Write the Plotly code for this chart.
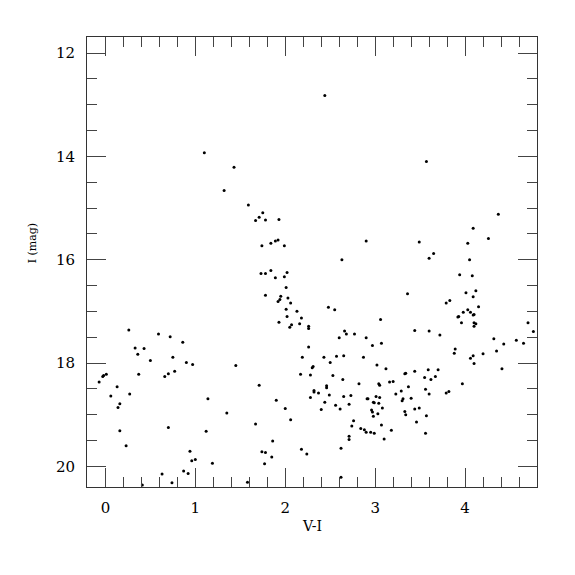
import plotly.graph_objects as go

# V-I colour and I magnitude of the stars
vi_bright = [1.10, 1.43, 2.44, 3.57, 1.32]
imag_bright = [13.93, 14.21, 12.82, 14.10, 14.66]

vi_blue = [0.26, 0.59, 0.72, 0.86, 0.33, 0.43, 0.36, 0.50, 0.75, 0.90,
           0.97, 1.45, 0.01, -0.02, -0.03, -0.07, 0.37, 0.66, 0.70, 0.77,
           0.13, 0.06, 0.27, 0.16, 0.14, 1.14, 1.35, 0.16, 0.70, 1.12,
           0.23, 0.94, 0.96, 1.00, 1.19, 0.87, 0.92, 0.63, 0.74, 0.41]
imag_blue = [17.36, 17.44, 17.49, 17.60, 17.71, 17.72, 17.83, 17.95, 17.89, 17.99,
             18.03, 18.05, 18.22, 18.24, 18.26, 18.37, 18.22, 18.26, 18.21, 18.16,
             18.46, 18.64, 18.60, 18.79, 18.86, 18.69, 18.97, 19.31, 19.25, 19.32,
             19.60, 19.71, 19.89, 19.87, 19.94, 20.09, 20.14, 20.15, 20.32, 20.36]

vi_mid = [1.59, 1.75, 1.71, 1.67, 1.78, 1.93, 1.74, 1.84, 1.89, 1.92,
          1.99, 2.90, 2.63, 1.73, 1.78, 1.84, 1.89, 1.99, 2.02, 2.01,
          1.78, 1.95, 1.94, 1.92, 2.03, 2.06, 2.01, 2.13, 2.02, 2.18,
          1.93, 2.07, 2.16, 2.05, 2.26, 2.26, 2.48, 2.55, 3.06, 2.66,
          2.68, 2.77, 2.60, 2.90]
imag_mid = [14.94, 15.09, 15.18, 15.24, 15.23, 15.22, 15.73, 15.68, 15.64, 15.62,
            15.73, 15.64, 16.00, 16.27, 16.27, 16.21, 16.35, 16.33, 16.25, 16.54,
            16.69, 16.71, 16.77, 16.81, 16.74, 16.84, 16.96, 17.00, 17.10, 17.13,
            17.21, 17.26, 17.24, 17.31, 17.29, 17.33, 16.92, 16.97, 17.16, 17.38,
            17.44, 17.44, 17.51, 17.51]

vi_red = [4.37, 4.09, 4.26, 3.49, 4.03, 3.65, 3.60, 4.05, 3.94, 4.08,
          3.36, 4.01, 4.12, 4.09, 3.83, 3.79, 4.15, 4.03, 3.98, 4.06,
          3.93, 3.92, 4.09, 4.10, 3.96, 4.10, 4.12, 4.10, 4.70, 4.76,
          3.44, 3.60, 3.72, 4.32, 4.57, 4.65, 4.43, 3.89, 3.88, 4.35,
          4.20, 4.09, 4.06, 4.10, 4.41]
imag_red = [15.12, 15.39, 15.59, 15.66, 15.68, 15.88, 15.97, 16.00, 16.29, 16.31,
            16.66, 16.64, 16.60, 16.72, 16.79, 16.84, 16.91, 16.97, 17.02, 17.02,
            17.10, 17.11, 17.07, 17.06, 17.22, 17.22, 17.24, 17.29, 17.22, 17.39,
            17.37, 17.38, 17.46, 17.53, 17.56, 17.62, 17.63, 17.73, 17.81, 17.77,
            17.82, 17.86, 17.91, 18.01, 18.11]

vi_faint = [2.97, 3.07, 2.26, 2.19, 2.43, 2.57, 2.65, 2.87, 2.50, 2.31,
            2.30, 3.02, 3.12, 1.71, 2.17, 2.28, 2.53, 2.64, 2.82, 3.04,
            3.05, 3.16, 2.46, 2.46, 2.32, 2.32, 2.37, 2.49, 2.28, 2.65,
            2.73, 2.91, 2.92, 3.01, 3.05, 1.90, 2.44, 2.98, 2.99, 3.04,
            2.56, 2.71, 2.61, 2.40, 3.08, 2.00, 2.96, 2.97, 3.03, 2.98,
            2.06, 2.76, 3.07, 2.74, 2.84, 2.88, 2.90, 2.95, 2.99, 1.67,
            2.71, 2.71, 3.10, 1.86, 2.62, 2.18, 1.74, 1.78, 2.24, 1.85,
            1.77, 2.62, 1.58]
imag_faint = [17.66, 17.62, 17.69, 17.89, 17.89, 17.87, 17.86, 17.89, 17.99, 18.07,
              18.09, 18.04, 18.11, 18.43, 18.22, 18.23, 18.24, 18.32, 18.40, 18.40,
              18.43, 18.37, 18.44, 18.48, 18.53, 18.56, 18.58, 18.62, 18.67, 18.65,
              18.63, 18.69, 18.69, 18.65, 18.67, 18.72, 18.76, 18.76, 18.77, 18.78,
              18.82, 18.80, 18.89, 18.90, 18.87, 18.88, 18.91, 18.95, 18.98, 19.03,
              19.10, 19.12, 19.20, 19.22, 19.27, 19.29, 19.34, 19.34, 19.36, 19.18,
              19.42, 19.48, 19.47, 19.51, 19.65, 19.67, 19.72, 19.73, 19.76, 19.82,
              19.95, 20.21, 20.31]

vi_clump = [3.44, 3.59, 3.70, 3.33, 3.34, 3.55, 3.67, 3.62, 3.20, 3.97,
            3.37, 3.56, 3.29, 3.23, 3.60, 3.82, 3.79, 3.40, 3.31, 3.30,
            3.33, 3.34, 3.44, 3.49, 3.57, 3.46, 3.18, 3.56]
imag_clump = [18.16, 18.13, 18.13, 18.21, 18.20, 18.28, 18.26, 18.32, 18.36, 18.40,
              18.46, 18.51, 18.54, 18.60, 18.60, 18.55, 18.58, 18.68, 18.69, 18.73,
              18.94, 19.00, 18.89, 18.87, 19.02, 19.14, 19.30, 19.36]

x_tickvals = [0, 1, 2, 3, 4]
y_tickvals = [12, 14, 16, 18, 20]

vi = vi_bright + vi_blue + vi_mid + vi_red + vi_faint + vi_clump
imag = imag_bright + imag_blue + imag_mid + imag_red + imag_faint + imag_clump

FONT = "DejaVu Serif"

fig = go.Figure()
fig.add_trace(go.Scatter(
    x=vi, y=imag, mode="markers",
    marker=dict(color="black", size=3, line=dict(width=0)),
    showlegend=False, hoverinfo="skip",
))

axis_common = dict(
    showline=True, linecolor="#333", linewidth=1, mirror="ticks",
    ticks="inside", tickcolor="#444", tickwidth=1, ticklen=19,
    showgrid=False, zeroline=False,
    tickfont=dict(family=FONT, size=15, color="black"),
)

fig.update_xaxes(
    range=[-0.205, 4.80], tickvals=x_tickvals,
    minor=dict(dtick=0.2, ticks="inside", ticklen=10, tickcolor="#444", showgrid=False),
    ticklabelstandoff=7,
    **axis_common,
)
fig.update_yaxes(
    range=[20.40, 11.69], tickvals=y_tickvals,
    minor=dict(dtick=0.5, ticks="inside", ticklen=10, tickcolor="#444", showgrid=False),
    ticklabelstandoff=8,
    **axis_common,
)

fig.update_layout(
    width=575, height=575,
    margin=dict(l=79, r=46, t=29, b=96),
    paper_bgcolor="white", plot_bgcolor="white",
    annotations=[
        dict(text="V-I", xref="paper", yref="paper", x=0.5, y=-0.086,
             showarrow=False, font=dict(family=FONT, size=14, color="black"),
             xanchor="center", yanchor="middle"),
        dict(text="I (mag)", xref="paper", yref="paper", x=-0.1207, y=0.5407,
             textangle=-90, showarrow=False,
             font=dict(family=FONT, size=11, color="black"),
             xanchor="center", yanchor="middle"),
    ],
)

fig.write_html("out.html")
